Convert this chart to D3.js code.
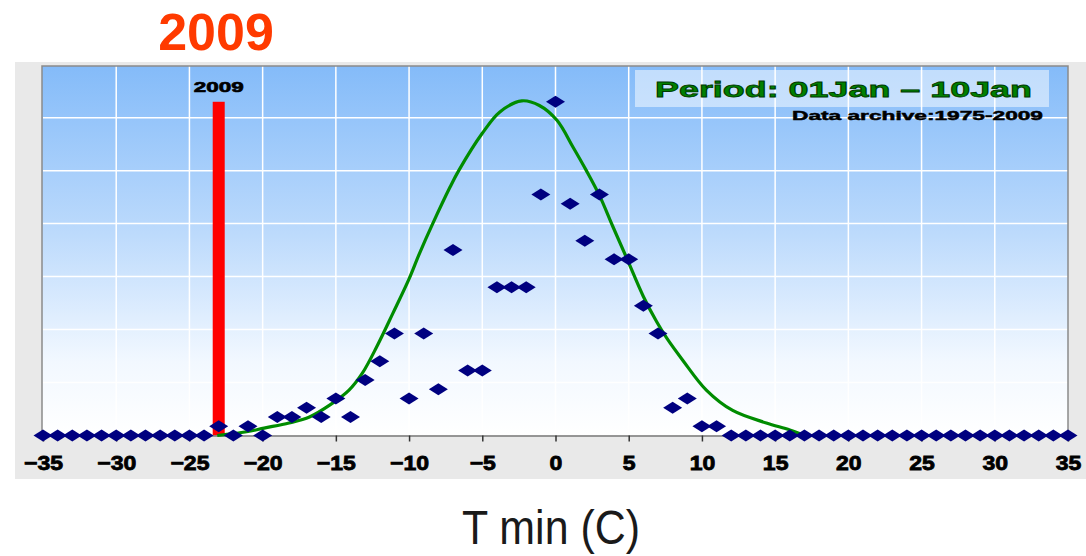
<!DOCTYPE html>
<html>
<head>
<meta charset="utf-8">
<script src="https://cdn.jsdelivr.net/npm/d3@7"></script>
<style>
  body { margin: 0; background: #fff; }
  svg { display: block; }
  text { font-family: "Liberation Sans", Arial, sans-serif; }
</style>
</head>
<body>
<div class="chart"></div>
<script>
// temperature classes (C) and number of days in each class
var temps = d3.range(-35, 36);
var counts = [
    0, 0, 0, 0, 0, 0, 0, 0, 0, 0, 0, 0,      // -35 .. -24
    1, 0, 1, 0, 2, 2, 3, 2, 4, 2, 6, 8,      // -23 .. -12
    11, 4, 11, 5, 20, 7, 7, 16, 16, 16, 26,  // -11 .. -1
    36, 25, 21, 26, 19, 19, 14, 11, 3, 4, 1, 1, // 0 .. 11
    0, 0, 0, 0, 0, 0, 0, 0, 0, 0, 0, 0,      // 12 .. 23
    0, 0, 0, 0, 0, 0, 0, 0, 0, 0, 0, 0       // 24 .. 35
];

// fitted curve
var curveX = [-23.1, -21.1, -19.9, -18.2, -16.8, -15.4, -14.1, -13.2, -12.2, -11.1, -10.0, -9.3, -8.4, -7.2, -6.6, -5.0, -3.8, -2.3, -1.1, 0.1, 1.2, 2.1, 3.0, 3.9, 4.9, 6.0, 6.9, 7.6, 8.7, 10.3, 12.1, 14.4, 16.0, 17.0];
var curveY = [0, 0.4, 0.8, 1.35, 2.0, 3.3, 4.9, 6.7, 9.6, 13.2, 16.9, 19.6, 22.8, 26.8, 28.6, 32.6, 34.9, 36.1, 35.6, 34.0, 31.1, 28.6, 25.9, 22.6, 19.0, 15.0, 12.3, 10.5, 8.1, 4.9, 2.7, 1.35, 0.6, 0];

var yearTemp = [-23];
var yearValue = [36];
var yearLabel = ["2009"];

var xTicks = d3.range(-35, 36, 5);

var width = 1086, height = 556;

var x = d3.scaleLinear().domain([-35, 35]).range([43, 1068]);
var y = d3.scaleLinear().domain([0, 40]).range([435.5, 64.7]);

var svg = d3.select(".chart").append("svg")
    .attr("width", width)
    .attr("height", height);

var defs = svg.append("defs");
var grad = defs.append("linearGradient")
    .attr("id", "bg")
    .attr("x1", 0).attr("y1", 0).attr("x2", 0).attr("y2", 1);
grad.append("stop").attr("offset", "0%").attr("stop-color", "#84bbf9");
grad.append("stop").attr("offset", "45%").attr("stop-color", "#bcdafc");
grad.append("stop").attr("offset", "80%").attr("stop-color", "#f2f8ff");
grad.append("stop").attr("offset", "100%").attr("stop-color", "#ffffff");

// grey panel
svg.append("rect")
    .attr("x", 15).attr("y", 62)
    .attr("width", width - 15).attr("height", 417)
    .attr("fill", "#e9e9e9");

var plotTop = 66;
svg.append("rect")
    .attr("x", x(-35) - 1).attr("y", plotTop)
    .attr("width", x(35) - x(-35) + 1).attr("height", y(0) - plotTop)
    .attr("fill", "url(#bg)");

// grid
var grid = svg.append("g");
grid.selectAll("line.v")
    .data(d3.range(-30, 35, 5))
    .enter().append("line")
    .attr("x1", function(d){ return x(d); })
    .attr("x2", function(d){ return x(d); })
    .attr("y1", plotTop).attr("y2", y(0))
    .attr("stroke", "#fff").attr("stroke-width", 1.5);
grid.selectAll("line.h")
    .data(d3.range(1, 7).map(function(k){ return k * 40 / 7; }))
    .enter().append("line")
    .attr("x1", x(-35)).attr("x2", x(35))
    .attr("y1", function(d){ return y(d); })
    .attr("y2", function(d){ return y(d); })
    .attr("stroke", "#fff").attr("stroke-width", 1.5);

// border
svg.append("path")
    .attr("d", "M" + (x(35)) + "," + y(0) + "V" + plotTop + "H" + (x(-35) - 1) + "V" + y(0))
    .attr("fill", "none").attr("stroke", "#8a8a8a").attr("stroke-width", 1.5);

// year bar
svg.selectAll("rect.year")
    .data(yearTemp)
    .enter().append("rect")
    .attr("class", "year")
    .attr("x", function(d){ return x(d) - 6; })
    .attr("y", function(d, i){ return y(yearValue[i]); })
    .attr("width", 12)
    .attr("height", function(d, i){ return y(0) - y(yearValue[i]); })
    .attr("fill", "#ff0000");

svg.selectAll("text.yearlab")
    .data(yearTemp)
    .enter().append("text")
    .attr("x", function(d){ return x(d) - 25; })
    .attr("y", 92)
    .attr("textLength", 50)
    .attr("lengthAdjust", "spacingAndGlyphs")
    .attr("font-size", 14)
    .attr("font-weight", "bold")
    .attr("stroke", "#000").attr("stroke-width", 0.6)
    .text(function(d, i){ return yearLabel[i]; });

// axis
var axis = svg.append("g")
    .attr("transform", "translate(0," + y(0) + ")")
    .call(d3.axisBottom(x).tickValues(xTicks).tickSize(6).tickSizeOuter(0));
axis.select(".domain").attr("stroke", "#777").attr("stroke-width", 1.5);
axis.selectAll(".tick line").attr("stroke", "#333").attr("stroke-width", 1.5);
axis.selectAll(".tick text")
    .attr("y", 35).attr("dy", 0)
    .attr("font-size", 20)
    .attr("font-weight", "bold")
    .attr("font-family", "'Liberation Sans', Arial, sans-serif")
    .attr("fill", "#000")
    .attr("stroke", "#000").attr("stroke-width", 0.8)
    .attr("transform", "scale(1.15,1)");

// curve
var line = d3.line()
    .x(function(d){ return x(d); })
    .y(function(d, i){ return y(curveY[i]); })
    .curve(d3.curveCatmullRom);
svg.append("path")
    .datum(curveX)
    .attr("d", line)
    .attr("fill", "none")
    .attr("stroke", "#008c00")
    .attr("stroke-width", 3.2);

// diamonds
svg.append("g").selectAll("path")
    .data(temps)
    .enter().append("path")
    .attr("d", "M-9.5,0L0,-6L9.5,0L0,6Z")
    .attr("transform", function(d, i){ return "translate(" + x(d) + "," + y(counts[i]) + ")"; })
    .attr("fill", "#000080");

// legend
svg.append("rect")
    .attr("x", 635).attr("y", 70)
    .attr("width", 414).attr("height", 37)
    .attr("fill", "#ffffff").attr("fill-opacity", 0.5);
svg.append("text")
    .attr("x", 655).attr("y", 97)
    .attr("textLength", 377)
    .attr("lengthAdjust", "spacingAndGlyphs")
    .attr("font-size", 22)
    .attr("font-weight", "bold")
    .attr("fill", "#008000")
    .attr("stroke", "#003a00").attr("stroke-width", 0.8)
    .text("Period: 01Jan \u2013 10Jan");
svg.append("text")
    .attr("x", 792).attr("y", 120)
    .attr("textLength", 251)
    .attr("lengthAdjust", "spacingAndGlyphs")
    .attr("font-size", 13.5)
    .attr("font-weight", "bold")
    .attr("fill", "#000")
    .attr("stroke", "#000").attr("stroke-width", 0.5)
    .text("Data archive:1975-2009");

// titles
svg.append("text")
    .attr("x", 216).attr("y", 50)
    .attr("text-anchor", "middle")
    .attr("font-size", 52)
    .attr("font-weight", "bold")
    .attr("fill", "#ff3a00")
    .text("2009");

svg.append("text")
    .attr("x", 462).attr("y", 544)
    .attr("textLength", 178)
    .attr("lengthAdjust", "spacingAndGlyphs")
    .attr("font-size", 48)
    .attr("fill", "#1a1a1a")
    .text("T min (C)");
</script>
</body>
</html>
